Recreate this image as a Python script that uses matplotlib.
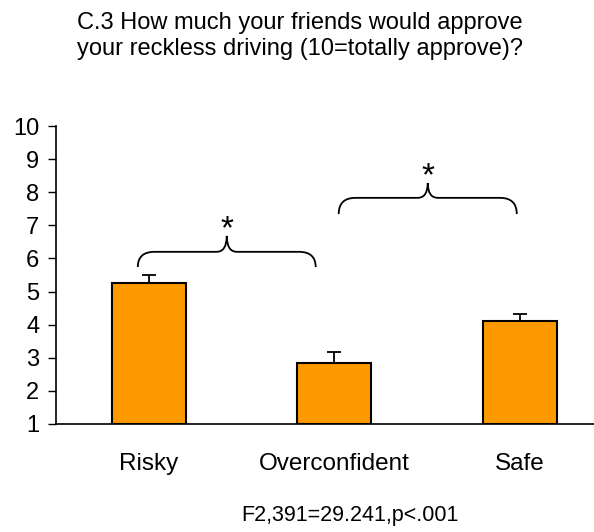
import numpy as np
import matplotlib
matplotlib.use("Agg")
import matplotlib.pyplot as plt
from matplotlib.path import Path
from matplotlib.patches import PathPatch

plt.rcParams["font.family"] = ["Liberation Sans", "DejaVu Sans"]

groups = ["Risky", "Overconfident", "Safe"]
means = [5.25, 2.85, 4.10]
errs = [0.25, 0.32, 0.21]
title = "C.3 How much your friends would approve\nyour reckless driving (10=totally approve)?"
stat_note = "F2,391=29.241,p<.001"
ORANGE = "#FF9900"

fig = plt.figure(figsize=(5.94, 5.32), dpi=100)
ax = fig.add_axes([56/594, 108/532, 556.5/594, 298/532])

x = np.arange(len(groups))
ax.bar(x, [m - 1 for m in means], bottom=1, width=0.4, color=ORANGE,
       edgecolor="black", linewidth=1.5, zorder=2)
ax.errorbar(x, means, yerr=[np.zeros(len(errs)), errs], fmt="none",
            ecolor="black", elinewidth=1.3, capsize=5, capthick=1.3, zorder=3)

ax.set_xlim(-0.5, 2.5); ax.set_ylim(1, 10)
ax.set_yticks(range(1, 11))
ax.tick_params(axis="y", direction="out", length=6, width=1, labelsize=17, pad=6)
ax.set_xticks(x); ax.set_xticklabels(groups, fontsize=17.5)
ax.tick_params(axis="x", length=0, pad=21)
for s in ("top", "right"):
    ax.spines[s].set_visible(False)
for s in ("left", "bottom"):
    ax.spines[s].set_linewidth(1.2)

def brace(ax, x0, x1, y_end, y_h, y_tip, r=0.09, r2=0.055):
    xm = (x0 + x1) / 2
    verts = [(x0, y_end), (x0, y_h), (x0 + r, y_h),
             (xm - r2, y_h),
             (xm, y_h), (xm, y_tip),
             (xm, y_h), (xm + r2, y_h),
             (x1 - r, y_h),
             (x1, y_h), (x1, y_end)]
    codes = [Path.MOVETO, Path.CURVE3, Path.CURVE3,
             Path.LINETO,
             Path.CURVE3, Path.CURVE3,
             Path.CURVE3, Path.CURVE3,
             Path.LINETO,
             Path.CURVE3, Path.CURVE3]
    ax.add_patch(PathPatch(Path(verts, codes), fill=False, lw=1.3,
                           edgecolor="black", clip_on=False, zorder=4))
    return xm

xm = brace(ax, -0.059, 0.90, 5.74, 6.20, 6.68)
ax.text(xm, 6.88, "*", ha="center", va="center", fontsize=24)
xm = brace(ax, 1.024, 1.984, 7.34, 7.83, 8.28)
ax.text(xm, 8.48, "*", ha="center", va="center", fontsize=24)

fig.text(0.505, 1 - 36/532, title, ha="center", va="center", fontsize=17, linespacing=1.2)
fig.text(350/594, 1 - 516/532, stat_note, ha="center", va="center", fontsize=15.5)

fig.savefig("out.png", dpi=100)
